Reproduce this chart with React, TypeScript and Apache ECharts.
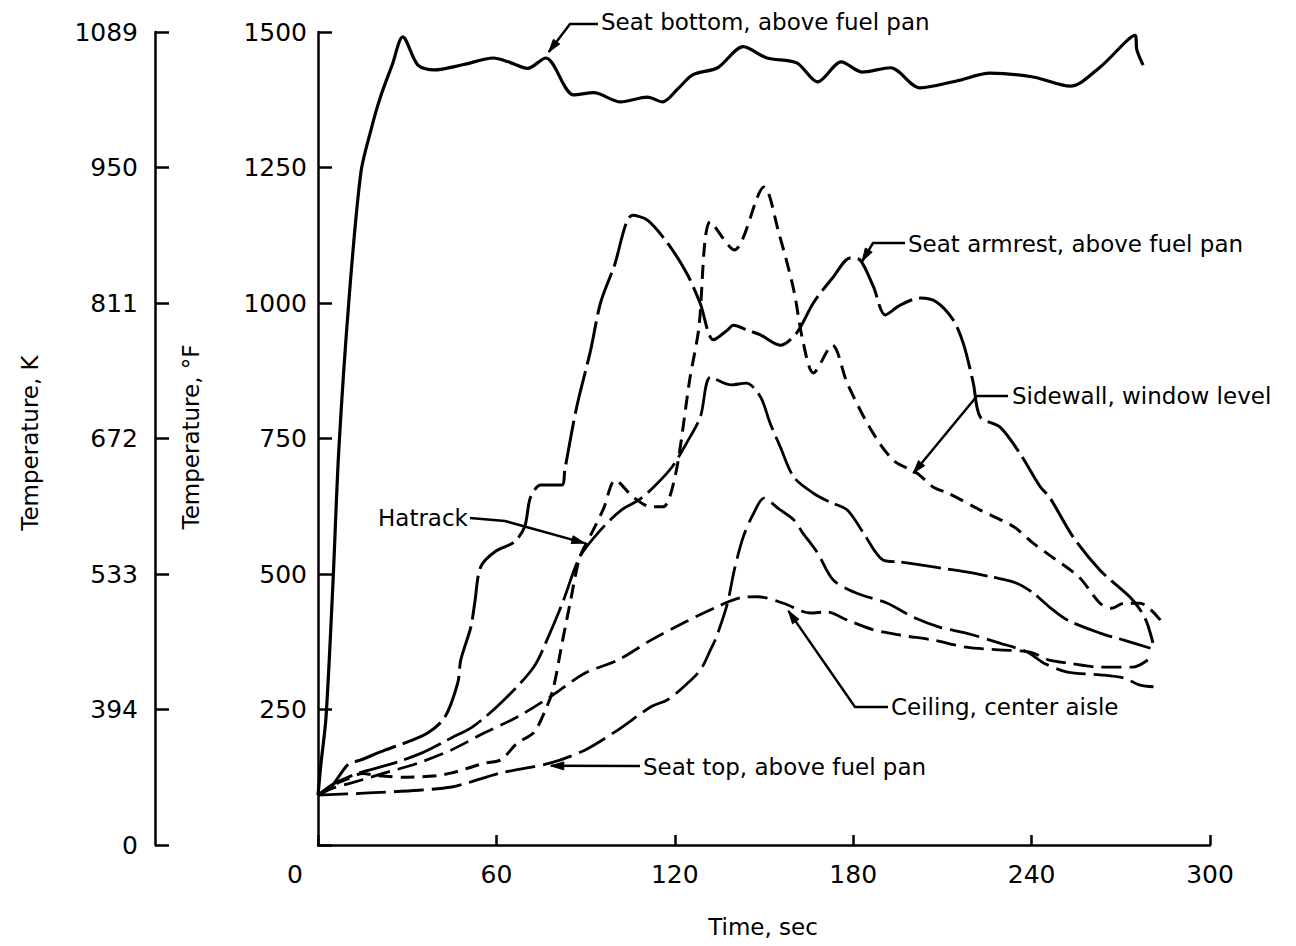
import React, { useEffect, useRef } from "react";
import * as echarts from "echarts";

// Axis scales
const timeTicks = [0, 60, 120, 180, 240, 300];
const fahrenheitTicks = [0, 250, 500, 750, 1000, 1250, 1500];
const kelvinLabels = ["0", "394", "533", "672", "811", "950", "1089"];

// Temperature histories: [time, sec ; temperature, °F]
const seatBottom: [number, number][] = [
  [0, 92], [1, 150], [2.7, 236], [5, 480], [7, 729], [10.4, 1005], [14.4, 1240], [17.8, 1319],
  [21, 1380], [25, 1440], [28.5, 1491], [33.6, 1439], [39, 1430], [49, 1440], [59, 1452],
  [64, 1445], [70.5, 1433], [76.6, 1452], [86, 1384], [92.7, 1388], [101.8, 1371], [110.8, 1380],
  [115.9, 1371], [121, 1395], [126, 1421], [134.4, 1434], [143, 1473], [151, 1452], [161, 1443],
  [168, 1408], [176, 1445], [183, 1426], [192.5, 1434], [202.5, 1397], [215, 1410], [226, 1424],
  [240.5, 1417], [253, 1400], [263, 1435], [274.8, 1494], [275.4, 1467], [277.5, 1439],
];

const seatArmrest: [number, number][] = [
  [0, 92], [4.4, 107], [10, 148], [14.4, 157], [22.5, 175], [30, 190], [37, 207], [42.7, 236],
  [47, 299], [48, 341], [51.4, 402], [52.7, 446], [54.7, 513], [59.5, 541], [66, 559], [69.5, 587],
  [71.5, 642], [75, 664], [82, 664], [83, 692], [87, 808], [91.7, 913], [95, 1000], [99.5, 1066],
  [105.8, 1162], [110.8, 1153], [117.5, 1111], [124, 1055], [128.5, 1000], [133, 932],
  [137.7, 950], [139.7, 959], [144.4, 950], [148.8, 941], [155.5, 922], [161, 945], [166.6, 1000],
  [173.3, 1048], [179, 1083], [182.4, 1079], [186.8, 1030], [190.8, 978], [195.8, 996],
  [202.5, 1009], [208, 1002], [213.6, 969], [217, 926], [220.4, 852], [222.7, 790], [229.4, 771],
  [236, 723], [242.9, 661], [246, 642], [254, 568], [263, 507], [273, 458], [276.5, 434],
  [278.8, 410], [280.8, 373],
];

const sidewall: [number, number][] = [
  [0, 92], [5, 110], [10, 122], [15, 132], [20, 128], [30, 125], [40, 128], [45, 133], [56, 151],
  [61.5, 157], [67, 188], [72.5, 207], [76, 243], [79, 286], [82, 370], [85, 452], [88, 530],
  [92, 575], [96, 620], [100, 673], [106, 642], [112, 624], [116, 624], [118, 637], [121, 705],
  [125, 858], [128, 950], [132, 1150], [140, 1098], [150, 1214], [155, 1129], [160, 1024],
  [163, 932], [166.6, 871], [173, 922], [178, 852], [186, 766], [193.5, 710], [201.5, 686],
  [207, 660], [212, 649], [222.7, 618], [234, 587], [240.5, 557], [247, 531], [256, 494],
  [263, 446], [267, 437], [271, 446], [276.5, 446], [284, 410],
];

const hatrack: [number, number][] = [
  [0, 92], [5, 112], [10, 125], [15, 135], [25, 150], [35, 170], [45, 198], [52, 218],
  [61.5, 262], [72.5, 328], [78, 391], [82.6, 452], [88, 531], [95, 581], [102, 618], [108, 637],
  [113, 661], [119, 697], [124, 742], [128.6, 790], [132, 863], [138.7, 849], [144, 852],
  [148.8, 827], [152, 779], [155.5, 734], [160, 679], [166.6, 649], [172, 633], [178, 618],
  [183.4, 576], [190, 526], [196, 522], [207, 513], [218, 504], [227, 494], [235, 483],
  [240.5, 465], [246, 439], [252, 415], [263, 391], [271, 378], [280, 363],
];

const ceiling: [number, number][] = [
  [0, 92], [5, 105], [11, 114], [22.5, 133], [33.6, 151], [44.7, 175], [56, 207], [67, 236],
  [78, 273], [89.7, 317], [100.8, 341], [112, 378], [123, 410], [134, 439], [142, 456],
  [148, 458], [156.5, 446], [165.6, 428], [171, 430], [178, 415], [186.8, 397], [196, 387],
  [207, 378], [218, 365], [229, 360], [239.5, 356], [246, 341], [252, 336], [263, 328],
  [274, 328], [280, 345],
];

const seatTop: [number, number][] = [
  [0, 92], [17, 96], [34, 101], [45, 107], [50, 114], [61.5, 133], [78, 151], [89.7, 175],
  [100.8, 212], [112, 255], [117.6, 268], [123, 292], [128.6, 323], [132, 360], [134, 384],
  [137.7, 446], [140, 507], [143, 568], [146.5, 612], [150, 640], [155, 620], [160, 600],
  [163, 576], [168, 539], [173.3, 489], [181, 465], [191.5, 446], [200, 421], [209, 402],
  [218, 391], [229, 373], [238.5, 356], [244, 336], [252, 319], [263, 314], [271, 308],
  [276.5, 295], [281, 292],
];

// Callout labels: text, the point on the curve that the arrow touches, and the leader's bends
const calloutTexts = [
  "Seat bottom, above fuel pan",
  "Seat armrest, above fuel pan",
  "Sidewall, window level",
  "Hatrack",
  "Ceiling, center aisle",
  "Seat top, above fuel pan",
];
const calloutTargets: [number, number][] = [
  [77.6, 1463], [183, 1077], [200.2, 686], [89.7, 557], [158.2, 432], [78.3, 146],
];

const FONT = '"DejaVu Sans", sans-serif';
const INK = "#000";

type Callout = {
  text: string;
  target: [number, number];
  textAt: [number, number];
  leader: [number, number][];
};

const calloutLayout: { textAt: [number, number]; leader: [number, number][] }[] = [
  { textAt: [601, 22], leader: [[598, 24], [570, 24]] },
  { textAt: [908, 244], leader: [[905, 243], [873, 243]] },
  { textAt: [1012, 396], leader: [[1008, 396], [977, 396]] },
  { textAt: [378, 518], leader: [[470, 518], [505, 521]] },
  { textAt: [891, 707], leader: [[888, 707], [855, 707]] },
  { textAt: [643, 767], leader: [[640, 766]] },
];

function arrowHead(from: number[], tip: number[], len = 13, wid = 8) {
  const dx = tip[0] - from[0];
  const dy = tip[1] - from[1];
  const d = Math.hypot(dx, dy) || 1;
  const ux = dx / d;
  const uy = dy / d;
  const bx = tip[0] - ux * len;
  const by = tip[1] - uy * len;
  const nx = -uy * (wid / 2);
  const ny = ux * (wid / 2);
  return [
    [tip[0], tip[1]],
    [bx + nx, by + ny],
    [bx - nx, by - ny],
  ];
}

function lineSeries(name: string, data: [number, number][], dash: any, width: number) {
  return {
    type: "line",
    name,
    data,
    showSymbol: false,
    symbol: "none",
    smooth: 0.3,
    silent: true,
    lineStyle: { color: INK, width, type: dash, cap: "butt", join: "round" },
  };
}

export default function App() {
  const ref = useRef<HTMLDivElement>(null);

  useEffect(() => {
    if (!ref.current) return;
    const chart = echarts.init(ref.current, null, { renderer: "svg" });

    const axisText = { color: INK, fontSize: 25, fontFamily: FONT };

    chart.setOption({
      animation: false,
      backgroundColor: "#fff",
      grid: { left: 318, right: 86, top: 32, bottom: 101, containLabel: false, outerBoundsMode: "none" },
      xAxis: {
        type: "value",
        min: timeTicks[0],
        max: timeTicks[timeTicks.length - 1],
        interval: timeTicks[1] - timeTicks[0],
        axisLine: { show: true, lineStyle: { color: INK, width: 2.5 } },
        axisTick: { show: true, inside: true, length: 10, lineStyle: { color: INK, width: 2.5 } },
        axisLabel: {
          ...axisText,
          margin: 17,
          formatter: (v: number) => (v === 0 ? "{o|0}" : String(v)),
          rich: { o: { ...axisText, padding: [0, 46, 0, 0] } },
        },
        splitLine: { show: false },
      },
      yAxis: [
        {
          type: "value",
          position: "left",
          min: fahrenheitTicks[0],
          max: fahrenheitTicks[fahrenheitTicks.length - 1],
          interval: fahrenheitTicks[1] - fahrenheitTicks[0],
          axisLine: { show: true, lineStyle: { color: INK, width: 2.5 } },
          axisTick: { show: true, inside: true, length: 14, lineStyle: { color: INK, width: 2.5 } },
          axisLabel: {
            ...axisText,
            margin: 11,
            formatter: (v: number) => (v === 0 ? "" : String(v)),
          },
          splitLine: { show: false },
        },
        {
          type: "value",
          position: "left",
          offset: 163,
          min: fahrenheitTicks[0],
          max: fahrenheitTicks[fahrenheitTicks.length - 1],
          interval: fahrenheitTicks[1] - fahrenheitTicks[0],
          axisLine: { show: true, lineStyle: { color: INK, width: 2.5 } },
          axisTick: { show: true, inside: true, length: 14, lineStyle: { color: INK, width: 2.5 } },
          axisLabel: {
            ...axisText,
            margin: 17,
            formatter: (v: number) => kelvinLabels[fahrenheitTicks.indexOf(v)] ?? "",
          },
          splitLine: { show: false },
        },
      ],
      series: [
        lineSeries("Seat bottom, above fuel pan", seatBottom, "solid", 3.2),
        lineSeries("Seat armrest, above fuel pan", seatArmrest, [44, 7], 3),
        lineSeries("Sidewall, window level", sidewall, [14, 8], 3),
        lineSeries("Hatrack", hatrack, [40, 7], 2.8),
        lineSeries("Ceiling, center aisle", ceiling, [20, 8], 2.8),
        lineSeries("Seat top, above fuel pan", seatTop, [30, 8], 2.8),
      ],
    });

    const callouts: Callout[] = calloutTexts.map((text, i) => ({
      text,
      target: calloutTargets[i],
      textAt: calloutLayout[i].textAt,
      leader: calloutLayout[i].leader,
    }));

    const graphic: any[] = [];
    callouts.forEach((c) => {
      const tip = chart.convertToPixel({ gridIndex: 0 }, c.target) as number[];
      const pts = [...c.leader, [tip[0], tip[1]]];
      graphic.push({
        type: "text",
        x: c.textAt[0],
        y: c.textAt[1],
        silent: true,
        style: { text: c.text, fill: INK, font: `23px ${FONT}`, align: "left", verticalAlign: "middle" },
      });
      graphic.push({
        type: "polyline",
        silent: true,
        shape: { points: pts },
        style: { stroke: INK, lineWidth: 2.5, fill: null },
      });
      graphic.push({
        type: "polygon",
        silent: true,
        shape: { points: arrowHead(pts[pts.length - 2], tip) },
        style: { fill: INK, stroke: INK, lineWidth: 1 },
      });
    });

    // Axis titles
    graphic.push({
      type: "text",
      x: 30,
      y: 443,
      rotation: Math.PI / 2,
      silent: true,
      style: { text: "Temperature, K", fill: INK, font: `23px ${FONT}`, align: "center", verticalAlign: "middle" },
    });
    graphic.push({
      type: "text",
      x: 191,
      y: 437,
      rotation: Math.PI / 2,
      silent: true,
      style: { text: "Temperature, \u00B0F", fill: INK, font: `23px ${FONT}`, align: "center", verticalAlign: "middle" },
    });
    graphic.push({
      type: "text",
      x: 763,
      y: 927,
      silent: true,
      style: { text: "Time, sec", fill: INK, font: `23px ${FONT}`, align: "center", verticalAlign: "middle" },
    });

    chart.setOption({ graphic });

    return () => chart.dispose();
  }, []);

  return (
    <div
      ref={ref}
      style={{ position: "absolute", left: 0, top: 0, width: 1296, height: 946, background: "#fff" }}
    />
  );
}
